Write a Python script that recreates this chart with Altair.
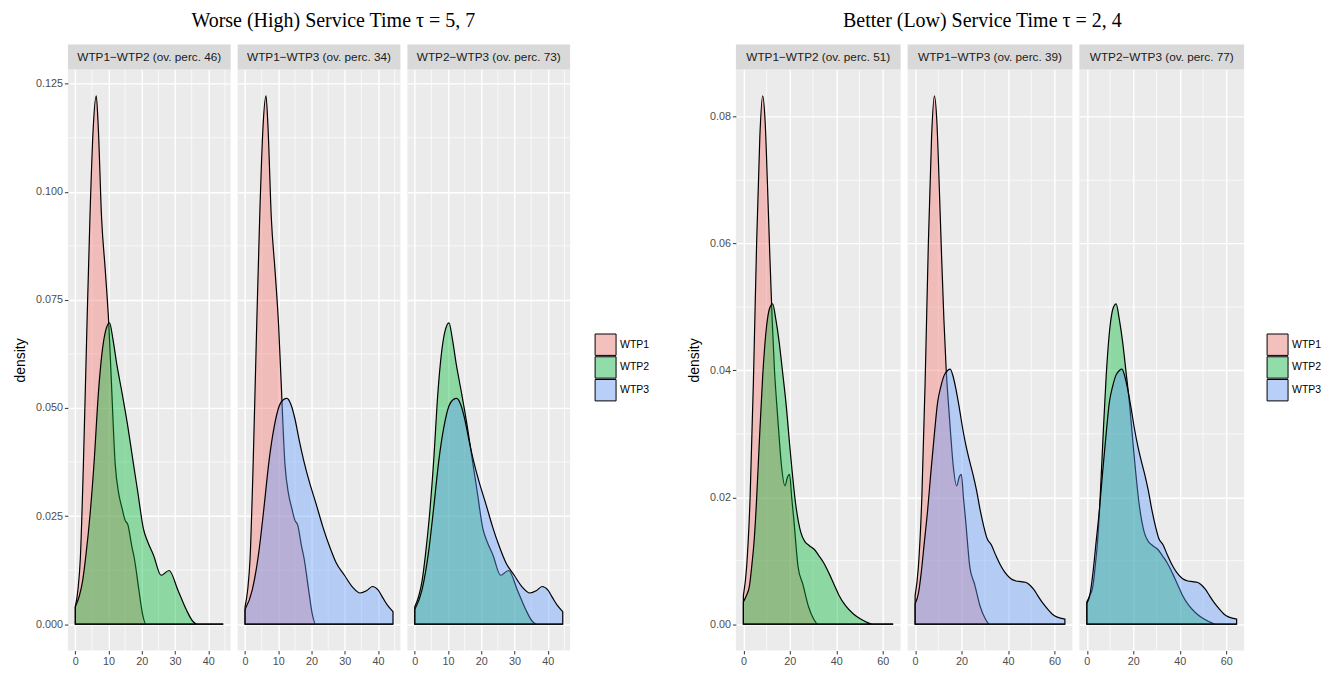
import altair as alt
import pandas as pd

KEYS = ["WTP1", "WTP2", "WTP3"]
HUES = ["#F8766D", "#00BA38", "#619CFF"]
KEY_FILLS = ["#F4C0BD", "#91DCA8", "#B8CFF7"]
PAIRS = [["WTP1", "WTP2"], ["WTP1", "WTP3"], ["WTP2", "WTP3"]]

# ---- Worse (High) service time: density curves ----
W1_X = [0, 0.8, 1.5, 2.4, 3.5, 4.4, 5.4, 6.3, 6.9, 7.9, 9.0, 10.1, 10.8, 12.0, 13.1, 14.0, 15.0, 15.8, 17.0, 17.8, 19.1, 20.3, 21.2, 44.5]
W1_Y = [0.004, 0.008, 0.015, 0.036, 0.069, 0.094, 0.115, 0.1222, 0.115, 0.094, 0.082, 0.069, 0.057, 0.037, 0.030, 0.027, 0.024, 0.023, 0.018, 0.015, 0.008, 0.002, 0.0, 0.0]
W2_X = [0, 1.2, 2.2, 3.2, 4.4, 5.7, 6.9, 8.0, 9.0, 10.3, 11.3, 12.5, 14.1, 15.8, 17.3, 18.8, 20.5, 21.8, 23.5, 25.8, 28.2, 30.9, 33.4, 35.4, 36.6, 44.5]
W2_Y = [0.004, 0.0065, 0.010, 0.016, 0.025, 0.038, 0.053, 0.0625, 0.0675, 0.0697, 0.066, 0.060, 0.0533, 0.0457, 0.038, 0.0305, 0.022, 0.019, 0.016, 0.0113, 0.0124, 0.0078, 0.0033, 0.0006, 0.0, 0.0]
W3_X = [0, 2.2, 4.2, 5.7, 7.25, 8.8, 10.3, 11.5, 12.6, 13.8, 15.0, 16.3, 17.6, 19.3, 21.3, 23.4, 25.4, 27.4, 29.9, 32.4, 34.6, 36.5, 38.3, 40.0, 41.5, 43.0, 44.5]
W3_Y = [0.0034, 0.008, 0.017, 0.027, 0.038, 0.0458, 0.0505, 0.0519, 0.0522, 0.0508, 0.0475, 0.0425, 0.038, 0.033, 0.028, 0.0225, 0.018, 0.0142, 0.0113, 0.0085, 0.0072, 0.0077, 0.0087, 0.0079, 0.006, 0.0042, 0.0029]

# ---- Better (Low) service time ----
B1_X = [0, 1.4, 2.9, 4.3, 5.7, 7.1, 8.3, 9.4, 10.4, 11.4, 12.4, 13.4, 14.3, 15.3, 16.4, 17.9, 19.0, 19.9, 20.8, 21.7, 23.6, 25.6, 28.1, 30.0, 32.1, 64.5]
B1_Y = [0.0045, 0.009, 0.020, 0.038, 0.060, 0.077, 0.0833, 0.079, 0.069, 0.058, 0.048, 0.040, 0.035, 0.030, 0.025, 0.0218, 0.0232, 0.0236, 0.020, 0.0166, 0.0089, 0.0063, 0.0027, 0.001, 0.0, 0.0]
B2_X = [0, 1.3, 2.6, 3.7, 4.7, 5.6, 6.9, 8.3, 10.0, 11.3, 12.6, 14.0, 15.4, 16.8, 18.3, 20.4, 22.6, 24.7, 26.5, 28.3, 30.5, 32.5, 34.7, 36.9, 39.0, 41.1, 44.0, 47.4, 50.5, 53.8, 55.5, 64.5]
B2_Y = [0.0035, 0.0045, 0.006, 0.0095, 0.0135, 0.019, 0.029, 0.039, 0.047, 0.0498, 0.0505, 0.048, 0.0445, 0.040, 0.035, 0.0264, 0.0187, 0.0145, 0.013, 0.0124, 0.0118, 0.0108, 0.0096, 0.008, 0.0063, 0.0046, 0.0029, 0.0016, 0.0008, 0.0002, 0.0, 0.0]
B3_X = [0, 1.5, 2.6, 4.0, 5.4, 6.8, 8.3, 9.7, 11.1, 12.6, 14.0, 15.1, 16.4, 17.6, 19.3, 20.4, 22.0, 23.6, 25.0, 26.5, 28.0, 29.5, 31.0, 32.8, 34.8, 36.9, 38.6, 41.1, 43.5, 45.5, 47.5, 49.0, 51.0, 52.8, 55.0, 57.0, 59.0, 61.2, 63.0, 64.5]
B3_Y = [0.0032, 0.005, 0.008, 0.013, 0.018, 0.024, 0.030, 0.035, 0.0375, 0.0393, 0.040, 0.0402, 0.039, 0.037, 0.0335, 0.031, 0.028, 0.0255, 0.0235, 0.021, 0.018, 0.0155, 0.0135, 0.0125, 0.0108, 0.0092, 0.0082, 0.0072, 0.0068, 0.0067, 0.0066, 0.0063, 0.0055, 0.0045, 0.0033, 0.0024, 0.0016, 0.0011, 0.0009, 0.0008]

W_STRIPS = ["WTP1\u2212WTP2 (ov. perc. 46)", "WTP1\u2212WTP3 (ov. perc. 34)", "WTP2\u2212WTP3 (ov. perc. 73)"]
B_STRIPS = ["WTP1\u2212WTP2 (ov. perc. 51)", "WTP1\u2212WTP3 (ov. perc. 39)", "WTP2\u2212WTP3 (ov. perc. 77)"]
W_TITLE = "Worse (High) Service Time \u03c4 = 5, 7"
B_TITLE = "Better (Low) Service Time \u03c4 = 2, 4"

W_XTICKS = [0, 10, 20, 30, 40]
W_XMINOR = [5, 15, 25, 35, 45]
W_YTICKS = [0, 0.025, 0.05, 0.075, 0.1, 0.125]
W_YMINOR = [0.0125, 0.0375, 0.0625, 0.0875, 0.1125]
W_XDOM = [-2.225, 46.725]
W_YDOM = [-0.00611, 0.12831]

B_XTICKS = [0, 20, 40, 60]
B_XMINOR = [10, 30, 50]
B_YTICKS = [0, 0.02, 0.04, 0.06, 0.08]
B_YMINOR = [0.01, 0.03, 0.05, 0.07]
B_XDOM = [-3.225, 67.725]
B_YDOM = [-0.004165, 0.087465]

FONT = "Liberation Sans"
PANEL_H = 582
STRIP_H = 25


def curves_df(xs, ys, pair):
    rows = []
    for key in pair:
        i = KEYS.index(key)
        for xv, yv in zip(xs[i], ys[i]):
            rows.append({"key": key, "x": xv, "y": yv})
    return pd.DataFrame(rows)


def panel(xs, ys, pair, strip, xdom, ydom, xt, yt, xm, ym, yfmt, first, w):
    xenc = alt.X(
        "x:Q",
        scale=alt.Scale(domain=xdom, nice=False, zero=False),
        axis=alt.Axis(values=xt, format="d", title=None, grid=True, gridColor="white",
                      gridWidth=1.4, domain=False, tickSize=3.5, tickColor="#333333",
                      labelColor="#4D4D4D", labelFontSize=10.8, labelPadding=1,
                      labelFont=FONT),
    )
    if first:
        yaxis = alt.Axis(values=yt, format=yfmt, title="density", titleFont=FONT,
                         titleFontSize=14, titleFontWeight="normal", titleColor="black",
                         titlePadding=8, grid=True, gridColor="white", gridWidth=1.4,
                         domain=False, tickSize=3.5, tickColor="#333333",
                         labelColor="#4D4D4D", labelFontSize=10.8, labelPadding=2,
                         labelFont=FONT)
    else:
        yaxis = alt.Axis(values=yt, title=None, labels=False, ticks=False, domain=False,
                         grid=True, gridColor="white", gridWidth=1.4)
    yenc = alt.Y("y:Q", scale=alt.Scale(domain=ydom, nice=False, zero=False),
                 axis=yaxis, stack=None)

    vminor = alt.Chart(pd.DataFrame({"x": xm})).mark_rule(
        color="white", strokeWidth=0.7).encode(x=xenc)
    hminor = alt.Chart(pd.DataFrame({"y": ym})).mark_rule(
        color="white", strokeWidth=0.7).encode(y=yenc)
    area = alt.Chart(curves_df(xs, ys, pair)).mark_area(
        stroke="black", strokeWidth=1.2, fillOpacity=0.4, interpolate="monotone"
    ).encode(
        x=xenc, y=yenc, y2=alt.datum(0),
        fill=alt.Fill("key:N", scale=alt.Scale(domain=KEYS, range=HUES), legend=None),
    )
    sdf = pd.DataFrame({"label": [strip]})
    srect = alt.Chart(sdf).mark_rect(color="#D9D9D9").encode(
        x=alt.value(0), x2=alt.value(w), y=alt.value(-STRIP_H), y2=alt.value(0))
    stext = alt.Chart(sdf).mark_text(font=FONT, fontSize=11.8, color="#1A1A1A",
                                     baseline="middle").encode(
        x=alt.value(w / 2), y=alt.value(-STRIP_H / 2), text="label:N")
    return alt.layer(vminor, hminor, area, srect, stext).properties(
        width=w, height=PANEL_H,
        view=alt.ViewBackground(fill="#EBEBEB", stroke="transparent"))


def legend_chart():
    df = pd.DataFrame({"key": KEYS})
    yenc = alt.Y("key:N", scale=alt.Scale(domain=KEYS, range=[265, 332],
                                          paddingInner=0.06, paddingOuter=0), axis=None)
    rect = alt.Chart(df).mark_rect(stroke="black", strokeWidth=1).encode(
        x=alt.value(0), x2=alt.value(21), y=yenc,
        fill=alt.Fill("key:N", scale=alt.Scale(domain=KEYS, range=KEY_FILLS), legend=None))
    text = alt.Chart(df).mark_text(align="left", font=FONT, fontSize=10.5,
                                   color="black").encode(
        x=alt.value(25), y=yenc, text="key:N")
    # invisible spacer matching the strip height so the plot tops line up
    spacer = alt.Chart(pd.DataFrame({"k": [0]})).mark_rect(fill="transparent").encode(
        x=alt.value(0), x2=alt.value(1), y=alt.value(-STRIP_H), y2=alt.value(0))
    return alt.layer(spacer, rect, text).properties(
        width=45, height=PANEL_H,
        view=alt.ViewBackground(fill="transparent", stroke="transparent"))


def group(xs, ys, strips, title, xdom, ydom, xt, yt, xm, ym, yfmt, w, dx, legsp):
    panels = [panel(xs, ys, PAIRS[i], strips[i], xdom, ydom, xt, yt, xm, ym, yfmt,
                    i == 0, w) for i in range(3)]
    inner = alt.hconcat(*panels, spacing=5).resolve_scale(
        x="independent", y="independent")
    return alt.hconcat(inner, legend_chart(), spacing=legsp).resolve_scale(
        y="independent", fill="independent").properties(
        title=alt.TitleParams(title, font="Liberation Serif", fontSize=20,
                              fontWeight="normal", color="black", anchor="middle",
                              dx=dx, offset=13))


left = group([W1_X, W2_X, W3_X], [W1_Y, W2_Y, W3_Y], W_STRIPS, W_TITLE, W_XDOM, W_YDOM,
             W_XTICKS, W_YTICKS, W_XMINOR, W_YMINOR, ".3f", 163, 2, 23)
right = group([B1_X, B2_X, B3_X], [B1_Y, B2_Y, B3_Y], B_STRIPS, B_TITLE, B_XDOM, B_YDOM,
              B_XTICKS, B_YTICKS, B_XMINOR, B_YMINOR, ".2f", 165, -22, 21)

chart = alt.hconcat(left, right, spacing=37).resolve_scale(
    x="independent", y="independent", fill="independent"
).properties(
    padding={"left": 5, "top": 3, "right": -1, "bottom": 0}
).configure(font=FONT).configure_view(strokeWidth=0)

chart.save("out.html", embed_options={"renderer": "svg", "actions": False})
